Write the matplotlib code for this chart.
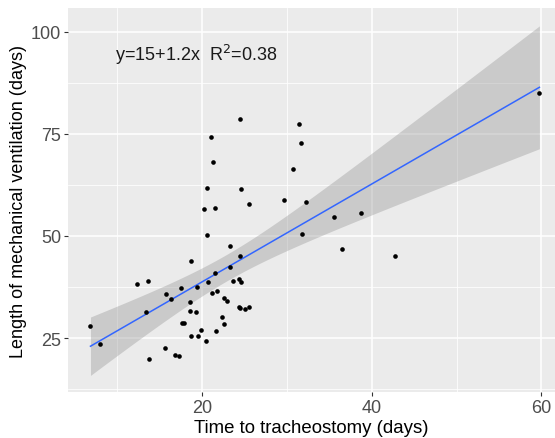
import numpy as np
import matplotlib
matplotlib.use("Agg")
import matplotlib.pyplot as plt

plt.rcParams['font.family'] = ['Liberation Sans', 'DejaVu Sans']

# time to tracheostomy (days) vs length of mechanical ventilation (days)
trach_days = [6.85, 7.99, 12.32, 13.58, 13.43, 13.70, 15.63, 15.79, 16.38, 16.77,
              17.28, 17.48, 17.60, 17.91, 18.66, 18.54, 18.58, 18.66, 19.29, 19.37,
              19.49, 19.84, 20.20, 20.47, 20.55, 20.55, 20.67, 21.10, 21.30, 21.57,
              21.54, 21.22, 21.77, 21.65, 22.40, 22.56, 22.56, 22.95, 23.31, 23.35,
              23.66, 24.53, 24.61, 24.53, 24.41, 24.61, 24.37, 24.49, 25.08, 25.59,
              25.59, 29.65, 30.75, 31.46, 31.65, 31.77, 32.28, 35.51, 36.54, 38.74,
              42.76, 59.76]
vent_days = [28.0, 23.5, 38.3, 38.9, 31.5, 19.9, 22.5, 35.7, 34.6, 20.8,
             20.6, 37.2, 28.6, 28.8, 43.9, 33.9, 31.6, 25.6, 31.5, 37.4,
             25.6, 26.9, 56.6, 24.4, 61.8, 50.3, 38.7, 74.3, 68.1, 56.9,
             40.9, 36.1, 36.6, 26.7, 30.1, 28.4, 34.7, 34.0, 47.6, 42.3,
             38.9, 78.7, 61.6, 45.2, 39.5, 38.7, 32.7, 32.4, 32.0, 32.7,
             57.8, 58.7, 66.5, 77.4, 72.8, 50.5, 58.3, 54.7, 46.9, 55.7,
             45.2, 85.0]
x_ticks = [20, 40, 60]
y_ticks = [25, 50, 75, 100]
label = "y=15+1.2x  R$^2$=0.38"

x = np.array(trach_days)
y = np.array(vent_days)

# linear fit with 95% confidence band (like geom_smooth(method="lm"))
n = len(x)
slope, intercept = np.polyfit(x, y, 1)
resid = y - (intercept + slope * x)
s = np.sqrt(np.sum(resid ** 2) / (n - 2))
xs = np.linspace(x.min(), x.max(), 80)
ys = intercept + slope * xs
se = s * np.sqrt(1 / n + (xs - x.mean()) ** 2 / np.sum((x - x.mean()) ** 2))
t = 2.0
lo, hi = ys - t * se, ys + t * se

fig = plt.figure(figsize=(5.55, 4.39), dpi=100)
ax = fig.add_axes([0.1225, 0.104, 0.8775, 0.875])
ax.set_facecolor('#EBEBEB')

ax.set_xlim(4.2, 61.6)
ax.set_ylim(11.7, 105.8)
ax.set_xticks(x_ticks)
ax.set_yticks(y_ticks)
ax.set_xticks([10, 30, 50], minor=True)
ax.set_yticks([12.5, 37.5, 62.5, 87.5], minor=True)
ax.grid(True, which='major', color='white', lw=1.1)
ax.grid(True, which='minor', color='white', lw=0.55)
ax.set_axisbelow(True)
for sp in ax.spines.values():
    sp.set_visible(False)
ax.tick_params(which='major', length=3, width=0.8, color='#333333',
               labelsize=13, labelcolor='#4D4D4D', pad=2)
ax.tick_params(which='minor', length=0)

ax.fill_between(xs, lo, hi, color='#999999', alpha=0.4, lw=0)
ax.plot(xs, ys, color='#3366FF', lw=1.1)
ax.scatter(x, y, s=11, color='black', lw=0, zorder=3)

ax.text(9.7, 94.6, label, fontsize=13, va='center', ha='left', color='#1a1a1a')

ax.set_xlabel("Time to tracheostomy (days)", fontsize=13.4, labelpad=2)
ax.set_ylabel("Length of mechanical ventilation (days)", fontsize=13, labelpad=3)

fig.savefig("out.png", dpi=100)
